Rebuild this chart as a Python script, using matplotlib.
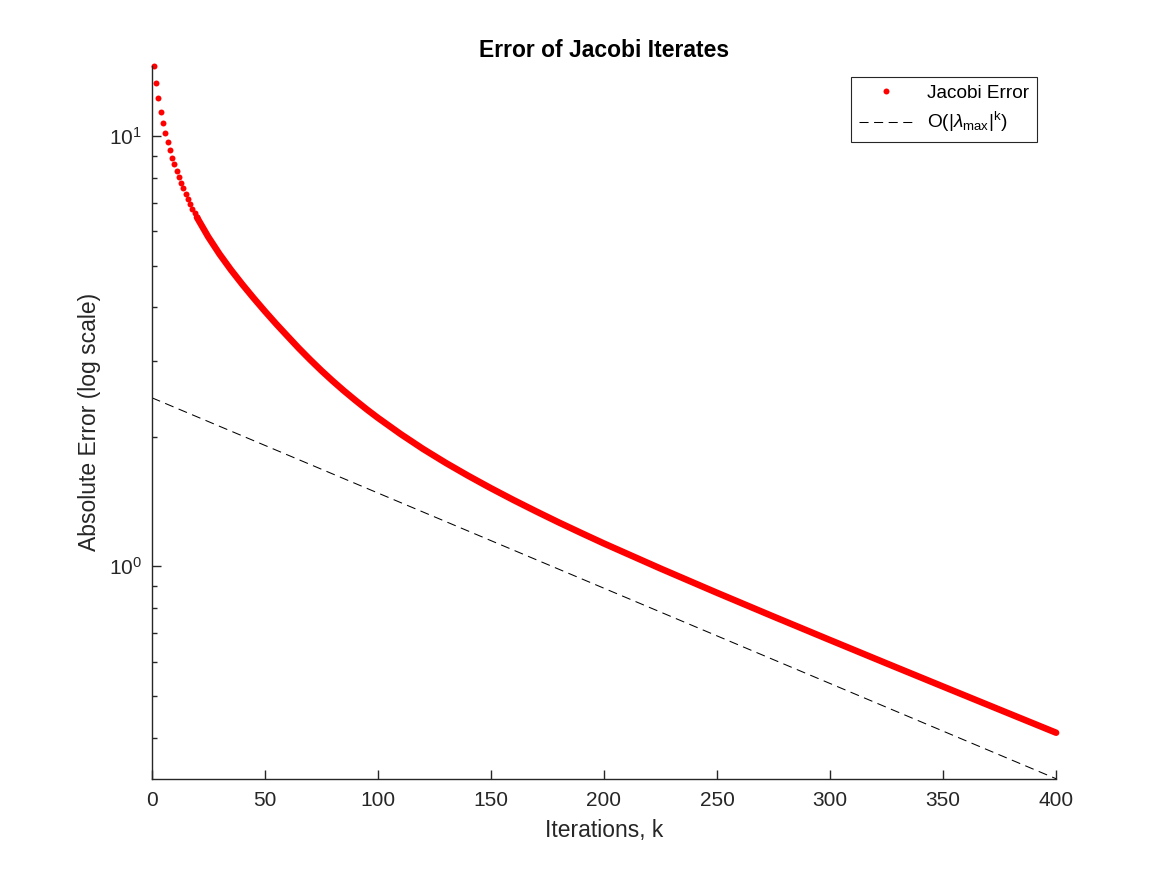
import numpy as np
import matplotlib
matplotlib.use("Agg")
import matplotlib.pyplot as plt
from matplotlib.ticker import FixedLocator, LogLocator, NullFormatter

plt.rcParams['font.family'] = ['Liberation Sans', 'DejaVu Sans']
plt.rcParams['mathtext.fontset'] = 'custom'
plt.rcParams['mathtext.rm'] = 'Liberation Sans'
plt.rcParams['mathtext.it'] = 'Liberation Sans:italic'
plt.rcParams['mathtext.bf'] = 'Liberation Sans:bold'

# first iterates, one dot each
k_first = list(range(1, 21))
err_first = [14.57, 13.26, 12.23, 11.38, 10.72, 10.14, 9.66, 9.26, 8.90, 8.59,
             8.30, 8.03, 7.78, 7.55, 7.34, 7.14, 6.96, 6.78, 6.62, 6.47]

# later iterates, where the dots merge into a solid band
k_later = [20, 25, 30, 35, 40, 45, 50, 55, 60, 65, 70, 75, 80, 85, 90, 95,
           100, 110, 120, 130, 140, 150, 160, 170, 180, 190, 200, 225, 250,
           275, 300, 325, 350, 375, 400]
err_later = [6.47, 5.828, 5.314, 4.889, 4.525, 4.205, 3.918, 3.660, 3.429,
             3.214, 3.023, 2.851, 2.697, 2.558, 2.433, 2.318, 2.214, 2.031,
             1.874, 1.740, 1.623, 1.519, 1.426, 1.342, 1.265, 1.195, 1.130,
             0.9884, 0.8680, 0.7643, 0.6740, 0.5949, 0.5255, 0.4644, 0.4105]

# O(|lambda_max|^k) reference line (straight on the log axis)
k_rate = [0, 400]
err_rate = [2.465, 0.3209]

x_ticks = [0, 50, 100, 150, 200, 250, 300, 350, 400]

dark = '#262626'

fig = plt.figure(figsize=(11.67, 8.75), dpi=100)
ax = fig.add_axes([0.13, 0.11, 0.775, 0.815])

ax.plot(k_later, err_later, '-', color='red', lw=4.7, clip_on=False,
        solid_capstyle='round', solid_joinstyle='round')
ax.plot(k_first, err_first, 'o', color='red', ms=4.3, mew=0, clip_on=False,
        label='Jacobi Error')
ax.plot(k_rate, err_rate, color='black', lw=0.75, dashes=(8.7, 5.3),
        label=r'O(|$\lambda_{\rm max}$|$^{\rm k}$)')

ax.set_yscale('log')
ax.set_xlim(0, 400)
ax.set_ylim(err_rate[-1], err_first[0])
ax.xaxis.set_major_locator(FixedLocator(x_ticks))
ax.yaxis.set_minor_locator(LogLocator(base=10, subs=np.arange(2, 10)))
ax.yaxis.set_minor_formatter(NullFormatter())

for side in ['top', 'right']:
    ax.spines[side].set_visible(False)
for side in ['left', 'bottom']:
    ax.spines[side].set_color(dark)
    ax.spines[side].set_linewidth(1.0)

ax.tick_params(which='both', direction='in', colors=dark, labelsize=15,
               top=False, right=False, width=1.0)
ax.tick_params(which='major', length=6.7)
ax.tick_params(which='minor', length=3.6)
ax.tick_params(axis='x', pad=9)
ax.tick_params(axis='y', pad=7)

ax.set_xlabel('Iterations, k', fontsize=16.5, color=dark, labelpad=6)
ax.set_ylabel('Absolute Error (log scale)', fontsize=16.5, color=dark, labelpad=6)
ax.set_title('Error of Jacobi Iterates', fontsize=16.5, fontweight='bold',
             color='black', pad=6)

leg = ax.legend(loc='upper right', bbox_to_anchor=(0.9786, 0.9844),
                borderaxespad=0, fontsize=13.7, fancybox=False, framealpha=1,
                edgecolor=dark, handlelength=2.85, handletextpad=0.75,
                borderpad=0.4, labelspacing=0.45)
leg.get_frame().set_linewidth(0.8)

plt.savefig('out.png', dpi=100)
